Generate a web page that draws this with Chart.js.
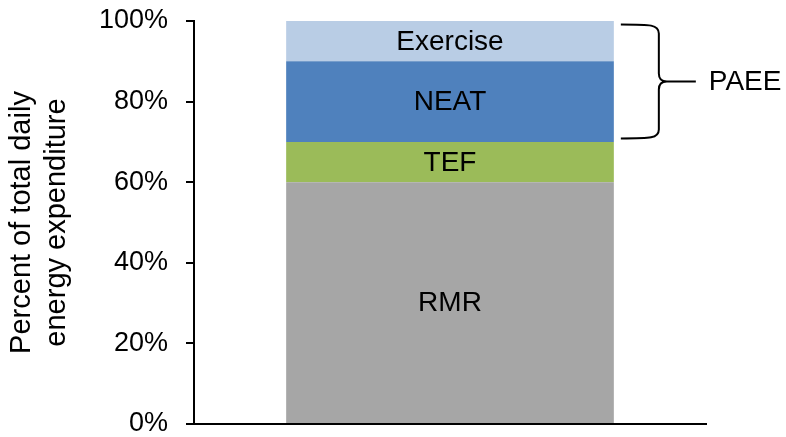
<!DOCTYPE html>
<html>
<head>
<meta charset="utf-8">
<script src="https://cdn.jsdelivr.net/npm/chart.js@4"></script>
<style>
  html, body { margin: 0; padding: 0; background: #fff; }
  #wrap { width: 786px; height: 437px; }
</style>
</head>
<body>
<div id="wrap"><canvas id="c" width="786" height="437"></canvas></div>
<script>
// Share of total daily energy expenditure, one stacked column
const categories = [''];
const componentNames = ['RMR', 'TEF', 'NEAT', 'Exercise'];
const rmr = [60];
const tef = [10];
const neat = [20];
const exercise = [10];
const yTicks = [0, 20, 40, 60, 80, 100];
const yTitle = ['Percent of total daily', 'energy expenditure'];
const braceLabel = 'PAEE';
const braceFrom = 70;   // brace spans NEAT + Exercise
const braceTo = 100;

const colors = ['#A6A6A6', '#9BBB59', '#4F81BD', '#B9CDE5'];
const FONT = 'Liberation Sans, Arial, sans-serif';

// Writes each component name in the middle of its segment
const segmentLabels = {
  id: 'segmentLabels',
  afterDatasetsDraw(chart) {
    const ctx = chart.ctx;
    ctx.save();
    ctx.fillStyle = '#000';
    ctx.font = '28px ' + FONT;
    ctx.textAlign = 'center';
    ctx.textBaseline = 'middle';
    chart.data.datasets.forEach((ds, i) => {
      const el = chart.getDatasetMeta(i).data[0];
      const mid = (el.y + el.base) / 2;
      ctx.fillText(ds.label, el.x, mid + 1);
    });
    ctx.restore();
  }
};

// Curly brace grouping the activity components, with its label
const activityBrace = {
  id: 'activityBrace',
  afterDraw(chart) {
    const ctx = chart.ctx;
    const y = chart.scales.y;
    const bar = chart.getDatasetMeta(3).data[0];
    const top = y.getPixelForValue(braceTo) + 3.5;
    const bot = y.getPixelForValue(braceFrom) - 3.5;
    const mid = (top + bot) / 2;
    const xs = bar.x + bar.width / 2 + 7;
    const xv = xs + 38;
    const tip = xv + 8;
    ctx.save();
    ctx.strokeStyle = '#000';
    ctx.lineWidth = 2;
    ctx.beginPath();
    ctx.moveTo(xs, top);
    ctx.bezierCurveTo(xs + 30, top, xv, top, xv, top + 9);
    ctx.lineTo(xv, mid - 8);
    ctx.quadraticCurveTo(xv, mid, tip, mid);
    ctx.quadraticCurveTo(xv, mid, xv, mid + 8);
    ctx.lineTo(xv, bot - 9);
    ctx.bezierCurveTo(xv, bot, xs + 30, bot, xs, bot);
    ctx.moveTo(tip - 2, mid);
    ctx.lineTo(xv + 37, mid);
    ctx.stroke();
    ctx.fillStyle = '#000';
    ctx.font = '28px ' + FONT;
    ctx.textAlign = 'left';
    ctx.textBaseline = 'middle';
    ctx.fillText(braceLabel, xv + 50, mid + 1);
    ctx.restore();
  }
};

const series = [rmr, tef, neat, exercise];

new Chart(document.getElementById('c'), {
  type: 'bar',
  data: {
    labels: categories,
    datasets: series.map((vals, i) => ({
      label: componentNames[i],
      data: vals,
      backgroundColor: colors[i],
      borderWidth: 0,
      barPercentage: 1,
      categoryPercentage: 0.64
    }))
  },
  options: {
    responsive: false,
    devicePixelRatio: 1,
    animation: false,
    layout: { padding: { left: 0, top: 21, right: 80, bottom: 13 } },
    plugins: { legend: { display: false }, tooltip: { enabled: false } },
    scales: {
      x: {
        stacked: true,
        ticks: { display: false, padding: 0 },
        grid: { display: false, drawTicks: false },
        border: { display: true, color: '#000', width: 2 },
        afterFit(s) { s.height = 0; s.paddingTop = 0; s.paddingBottom = 0; }
      },
      y: {
        stacked: true,
        min: 0,
        max: 100,
        afterBuildTicks(s) { s.ticks = yTicks.map(v => ({ value: v })); },
        ticks: {
          color: '#000',
          font: { family: FONT, size: 27 },
          padding: 18,
          callback: v => v + '%'
        },
        grid: { drawOnChartArea: false, drawTicks: true, tickLength: 8, color: '#000', lineWidth: 2 },
        border: { display: true, color: '#000', width: 2 },
        title: {
          display: true,
          text: yTitle,
          color: '#000',
          font: { family: FONT, size: 29, lineHeight: 1.2 },
          padding: { top: 5, bottom: 0 }
        },
        afterFit(s) { s.width = 194; s.paddingTop = 0; s.paddingBottom = 0; }
      }
    }
  },
  plugins: [segmentLabels, activityBrace]
});
</script>
</body>
</html>
